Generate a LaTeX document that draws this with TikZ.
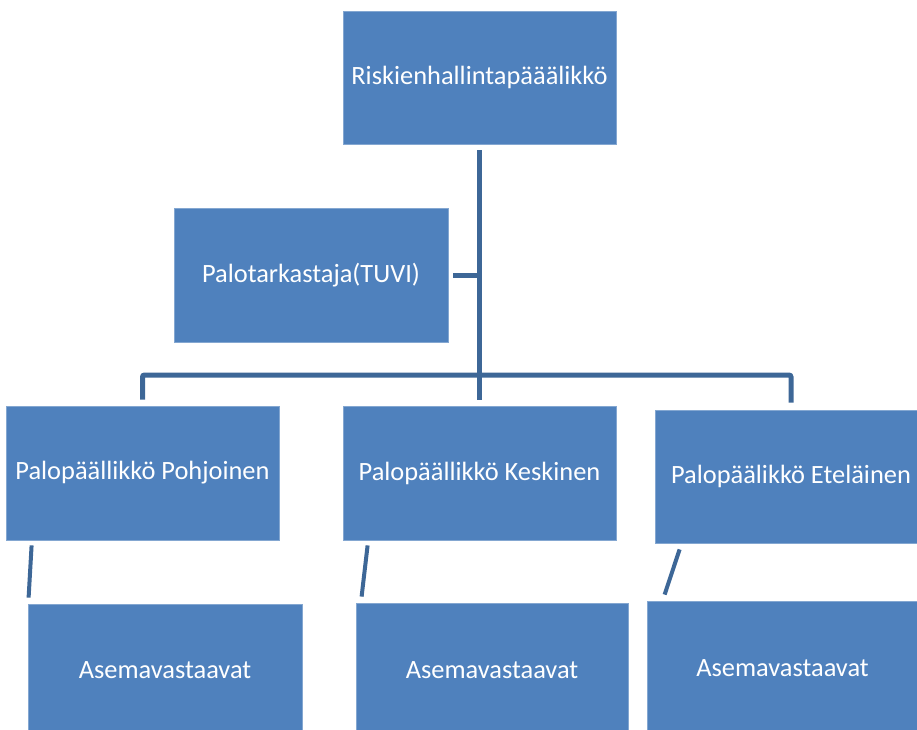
\documentclass[tikz,border=0pt]{standalone}
\usepackage{fontspec}
\setmainfont{Carlito}
\definecolor{boxblue}{HTML}{4F81BD}
\definecolor{lineblue}{HTML}{3D6797}
\begin{document}
\begin{tikzpicture}[x=1pt, y=-1pt,
  every node/.style={fill=boxblue,draw=boxblue!70!white,line width=0.8pt,text=white,inner sep=0pt,font=\fontsize{26.4}{30}\selectfont},
  link/.style={draw=lineblue,line width=5pt}]
  \useasboundingbox (0,0) rectangle (917,729);
  \node (chief) [minimum width=273pt, minimum height=133pt] at (479.5,77.5) {Riskienhallintapääälikkö};
  \node (tuvi) [minimum width=274pt, minimum height=134pt] at (311,275) {Palotarkastaja(TUVI)};
  \node (north) [minimum width=273pt, minimum height=134pt] at (142.5,473) {Palopäällikkö Pohjoinen};
  \node (middle) [minimum width=273pt, minimum height=134pt] at (479.5,473) {Palopäällikkö Keskinen};
  \node (south) [minimum width=272pt, minimum height=133pt] at (791,476.5) {Palopäälikkö Eteläinen};
  \node (stnorth) [minimum width=274pt, minimum height=132pt] at (165,670) {Asemavastaavat};
  \node (stmiddle) [minimum width=272pt, minimum height=134pt] at (492,670) {Asemavastaavat};
  \node (stsouth) [minimum width=271pt, minimum height=134pt] at (782.5,668) {Asemavastaavat};
  \coordinate (bar) at (479.5,375);
  \draw[link] ([yshift=-6pt]chief.south) -- ([yshift=6pt]middle.north);
  \draw[link] ([xshift=5pt]tuvi.east) -- (tuvi.east -| chief.south);
  \draw[link,rounded corners=2pt] ([yshift=6pt]north.north) |- (bar) -| ([yshift=7pt]south.north);
  \draw[link,line width=4pt] ([xshift=26pt,yshift=-5pt]north.south west) -- ([xshift=1pt,yshift=6pt]stnorth.north west);
  \draw[link,line width=4pt] ([xshift=25pt,yshift=-5pt]middle.south west) -- ([xshift=6pt,yshift=6pt]stmiddle.north west);
  \draw[link,line width=4pt] ([xshift=25pt,yshift=-6pt]south.south west) -- ([xshift=18pt,yshift=6pt]stsouth.north west);
\end{tikzpicture}
\end{document}
